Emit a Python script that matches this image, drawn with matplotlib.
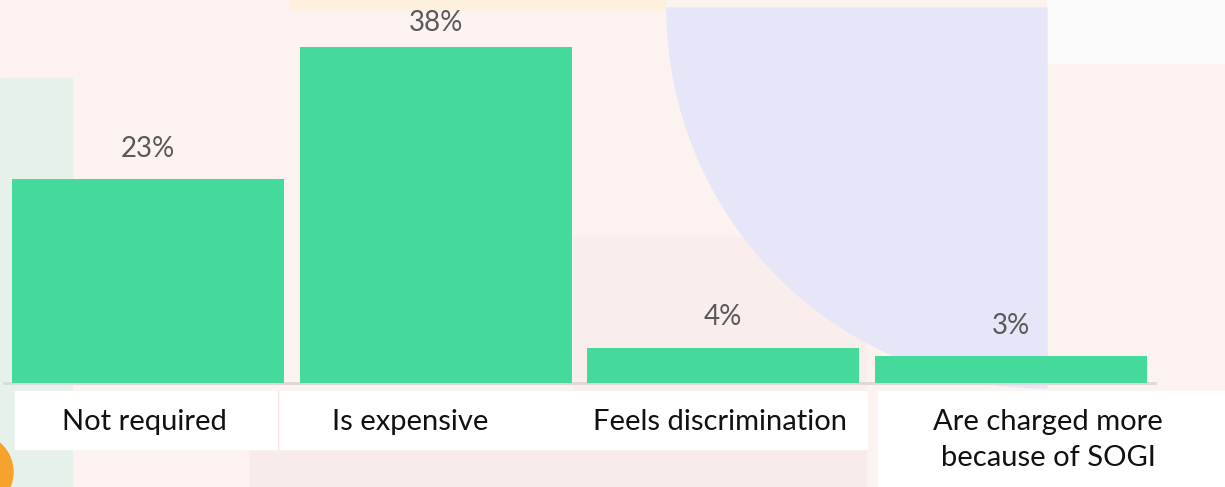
import matplotlib.pyplot as plt
from matplotlib.patches import Rectangle, Circle, Wedge

categories = ["Not required", "Is expensive", "Feels discrimination",
              "Are charged more\nbecause of SOGI"]
shares = [23, 38, 4, 3]
value_labels = ["23%", "38%", "4%", "3%"]

W, H = 1225, 487
fig = plt.figure(figsize=(W / 100, H / 100), dpi=100)
fig.patch.set_facecolor("#fcf3f0")

# backdrop drawn in pixel coordinates
bg = fig.add_axes([0, 0, 1, 1])
bg.set_xlim(0, W)
bg.set_ylim(H, 0)
bg.axis("off")
bg.add_patch(Rectangle((0, 0), W, H, color="#fcf3f0", zorder=0))
bg.add_patch(Rectangle((290, 0), 375, 10, color="#fdf0dc", zorder=1))
bg.add_patch(Rectangle((1047, 0), 178, 63, color="#fafafa", zorder=1))
bg.add_patch(Rectangle((0, 78), 72, H - 78, color="#e6f1ea", zorder=1))
bg.add_patch(Rectangle((573, 237), 293, 250, color="#f9eeeb", zorder=1))
bg.add_patch(Rectangle((250, 449), 616, 38, color="#f8ecea", zorder=1))
bg.add_patch(Wedge((1047, 8), 380, 90, 180, color="#e7e6f8", zorder=2))
bg.add_patch(Circle((-25, 472), 38, color="#f5a32c", zorder=3))

# white panels under the category names
bg.add_patch(Rectangle((15, 391), 262, 58, color="white", zorder=4))
bg.add_patch(Rectangle((278, 391), 589, 58, color="white", zorder=4))
bg.add_patch(Rectangle((878, 391), 347, 96, color="white", zorder=4))
bg.plot([277.5, 277.5], [391, 449], color="#f6e4e4", lw=1, zorder=5)

label_x = [144, 410, 720, 1048]
for name, x in zip(categories, label_x):
    bg.text(x, 409, name, ha="center", va="top", fontsize=21, family="Lato",
            color="#111111", linespacing=1.5, zorder=6)

# bar chart
ax = fig.add_axes([4 / W, (H - 383) / H, 1151 / W, 383 / H])
ax.patch.set_alpha(0)
ax.bar(range(len(shares)), shares, width=272 / 288, color="#45d99b", zorder=3)
ax.set_xlim(-0.5, len(shares) - 0.5)
ax.set_ylim(0, 383 / 8.85)
for side in ["top", "right", "left"]:
    ax.spines[side].set_visible(False)
ax.spines["bottom"].set_color("#d9d9d9")
ax.spines["bottom"].set_linewidth(2)
ax.set_xticks([])
ax.set_yticks([])

for i, (v, lab) in enumerate(zip(shares, value_labels)):
    ax.text(i, min(v + 2.0, 39.2), lab, ha="center", va="bottom",
            fontsize=20, family="Lato", color="#595959")

fig.savefig("out.png", dpi=100, facecolor=fig.get_facecolor())
